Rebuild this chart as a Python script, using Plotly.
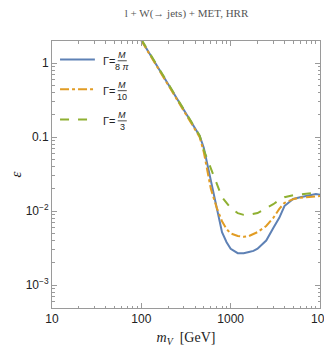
import plotly.graph_objects as go

# masses (GeV) and efficiencies
mass = [100, 150, 200, 300, 400, 450, 500, 600, 700, 800, 900, 1000, 1200, 1400,
        1600, 1800, 2000, 2500, 3000, 3500, 4000, 5000, 6000, 7000, 8000, 9000, 10000]

eff_8pi = [2.05, 0.92, 0.52, 0.23, 0.13, 0.104, 0.072, 0.026, 0.012, 0.0052, 0.0038,
           0.0031, 0.0027, 0.0027, 0.0028, 0.0029, 0.0031, 0.0040, 0.0059, 0.0081,
           0.0117, 0.0146, 0.0154, 0.0159, 0.0164, 0.0170, 0.0166]
eff_10 = [2.02, 0.90, 0.51, 0.225, 0.127, 0.100, 0.063, 0.020, 0.011, 0.0073, 0.0057,
          0.0050, 0.0046, 0.0045, 0.0046, 0.0049, 0.0052, 0.0063, 0.0081, 0.0107,
          0.0129, 0.0145, 0.0152, 0.0154, 0.0157, 0.0159, 0.0160]
eff_3 = [2.10, 0.95, 0.54, 0.235, 0.133, 0.105, 0.067, 0.038, 0.024, 0.0154, 0.0129,
         0.0110, 0.0094, 0.0089, 0.0089, 0.0091, 0.0094, 0.0110, 0.0124, 0.0141,
         0.0154, 0.0164, 0.0170, 0.0172, 0.0175, 0.0175, 0.0175]

denoms = ["8 <i>\u03c0</i>", "10", "3"]
series = [eff_8pi, eff_10, eff_3]
colors = ["#5E81B5", "#E19C24", "#8FB032"]
dashes = ["solid", "dashdot", "dash"]

x_tickvals = [10, 100, 1000, 10000]
x_ticktext = ["10", "100", "1000", "10<sup>4</sup>"]
y_tickvals = [0.001, 0.01, 0.1, 1]
y_ticktext = ["10<sup>\u22123</sup>", "10<sup>\u22122</sup>", "0.1", "1"]

fig = go.Figure()
for y, c, d in zip(series, colors, dashes):
    fig.add_trace(go.Scatter(x=mass, y=y, mode="lines", showlegend=False,
                             line=dict(color=c, width=2, dash=d)))

minor_x = [k * 10**e for e in range(1, 4) for k in range(2, 10)]
minor_y = [k * 10.0**e for e in range(-4, 1) for k in range(2, 10)]

axis_common = dict(type="log", showgrid=False, zeroline=False, showline=True,
                   linecolor="#9a9a9a", linewidth=1, mirror="ticks", automargin=False,
                   ticks="inside", ticklen=5, tickcolor="#9a9a9a",
                   tickfont=dict(family="Liberation Sans", size=12, color="#222"))

fig.update_xaxes(range=[1, 4], tickvals=x_tickvals, ticktext=x_ticktext,
                 minor=dict(tickvals=minor_x, ticks="inside", ticklen=2.5, tickcolor="#9a9a9a"),
                 title=dict(text="<i>m</i><sub><i>V</i></sub>  [GeV]", standoff=6,
                            font=dict(family="Liberation Serif", size=14, color="#222")),
                 **axis_common)
fig.update_yaxes(range=[-3.31, 0.30], tickvals=y_tickvals, ticktext=y_ticktext,
                 minor=dict(tickvals=minor_y, ticks="inside", ticklen=2.5, tickcolor="#9a9a9a"),
                 title=dict(text="<i>\u03b5</i>", standoff=14,
                            font=dict(family="Liberation Serif", size=15, color="#222")),
                 **axis_common)

# hand-made legend: key line + "Γ = M / denom"
leg_y = [0.925, 0.813, 0.700]
for yy, den, c, d in zip(leg_y, denoms, colors, dashes):
    fig.add_shape(type="line", xref="paper", yref="paper", x0=0.030, x1=0.160,
                  y0=yy + 0.006, y1=yy + 0.006, line=dict(color=c, width=2, dash=d))
    fig.add_annotation(xref="paper", yref="paper", x=0.185, y=yy, text="\u0393=",
                       showarrow=False, xanchor="left", yanchor="middle", borderpad=0,
                       font=dict(family="Liberation Sans", size=11, color="#222"))
    fig.add_annotation(xref="paper", yref="paper", x=0.262, y=yy + 0.021, text="<i>M</i>",
                       showarrow=False, xanchor="center", yanchor="middle", borderpad=0,
                       font=dict(family="Liberation Sans", size=9, color="#222"))
    fig.add_annotation(xref="paper", yref="paper", x=0.262, y=yy - 0.021, text=den,
                       showarrow=False, xanchor="center", yanchor="middle", borderpad=0,
                       font=dict(family="Liberation Sans", size=9, color="#222"))
    fig.add_shape(type="line", xref="paper", yref="paper", x0=0.245, x1=0.279,
                  y0=yy + 0.001, y1=yy + 0.001, line=dict(color="#222", width=0.8))

# page has an 8px body margin, so the figure is sized/margined to compensate
fig.update_layout(
    width=324, height=346,
    margin=dict(l=44, r=12, t=33, b=46),
    plot_bgcolor="white", paper_bgcolor="white",
    title=dict(text="l + W(\u2192 jets) + MET, HRR", x=0.551, xanchor="center",
               y=0.984, yanchor="middle",
               font=dict(family="Liberation Serif", size=11, color="#555")),
)

fig.write_html("out.html")
